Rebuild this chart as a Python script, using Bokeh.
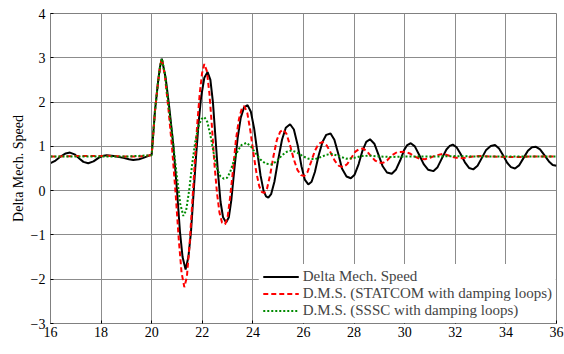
from bokeh.plotting import figure
from bokeh.models import Range1d, FixedTicker, Legend, LegendItem, Label
from bokeh.embed import file_html
from bokeh.resources import INLINE

# ---- data ----
x_ticks = [16, 18, 20, 22, 24, 26, 28, 30, 32, 34, 36]
y_ticks = [-3, -2, -1, 0, 1, 2, 3, 4]

black_t = [16.0, 16.2, 16.4, 16.6, 16.77, 16.95, 17.15, 17.3, 17.49, 17.7, 17.9, 18.05, 18.22, 18.5,
           18.88, 19.1, 19.27, 19.5, 19.67, 19.85, 20.0, 20.05, 20.13, 20.25, 20.33, 20.40,
           20.55, 20.70, 20.85, 21.0, 21.12, 21.22, 21.34, 21.45, 21.55, 21.65, 21.75, 21.85, 21.95,
           22.08, 22.21, 22.32, 22.42, 22.52, 22.62, 22.72, 22.82, 22.94, 23.05, 23.15, 23.27, 23.4,
           23.52, 23.65, 23.79, 23.92, 24.05, 24.18, 24.3, 24.42, 24.52, 24.61, 24.72, 24.85, 25.0,
           25.15, 25.3, 25.47, 25.62, 25.78, 25.92, 26.05, 26.19, 26.32, 26.45, 26.6, 26.75, 26.9,
           27.07, 27.22, 27.38, 27.52, 27.7, 27.87, 28.02, 28.18, 28.33, 28.48, 28.63, 28.8, 28.97,
           29.13, 29.3, 29.49, 29.65, 29.82, 29.98, 30.1, 30.24, 30.4, 30.58, 30.75, 30.93, 31.13,
           31.3, 31.48, 31.65, 31.78, 31.9, 32.05, 32.2, 32.38, 32.55, 32.71, 32.88, 33.05, 33.22,
           33.4, 33.57, 33.73, 33.9, 34.05, 34.2, 34.36, 34.52, 34.7, 34.87, 35.03, 35.19, 35.35,
           35.52, 35.7, 35.85, 36.0]
black_v = [0.62, 0.68, 0.77, 0.84, 0.86, 0.82, 0.72, 0.65, 0.62, 0.66, 0.74, 0.78, 0.80, 0.78,
           0.74, 0.71, 0.69, 0.71, 0.74, 0.78, 0.82, 1.2, 1.8, 2.45, 2.8, 2.98,
           2.55, 1.85, 1.05, 0.0, -0.95, -1.5, -1.78, -1.5, -0.95, -0.1, 0.75, 1.5, 2.1,
           2.55, 2.68, 2.5, 2.0, 1.2, 0.4, -0.25, -0.6, -0.72, -0.6, -0.2, 0.5, 1.2,
           1.65, 1.88, 1.93, 1.78, 1.4, 0.85, 0.35, 0.0, -0.13, -0.16, -0.08, 0.2, 0.7,
           1.15, 1.42, 1.50, 1.38, 1.0, 0.55, 0.25, 0.14, 0.2, 0.42, 0.8, 1.1, 1.26,
           1.29, 1.15, 0.82, 0.5, 0.32, 0.28, 0.36, 0.6, 0.9, 1.1, 1.16, 1.06, 0.8,
           0.55, 0.41, 0.38, 0.47, 0.68, 0.92, 1.03, 1.07, 1.0, 0.8, 0.6, 0.47, 0.44,
           0.53, 0.74, 0.93, 1.01, 1.04, 0.98, 0.84, 0.64, 0.51, 0.48, 0.56, 0.74, 0.92,
           1.01, 1.03, 0.95, 0.79, 0.63, 0.53, 0.50, 0.57, 0.74, 0.9, 0.98, 0.99, 0.93,
           0.8, 0.66, 0.58, 0.56]

red_t = [16.0, 17.0, 18.0, 18.2, 18.5, 19.0, 19.5, 20.0, 20.05, 20.13, 20.25, 20.33, 20.40,
         20.52, 20.66, 20.8, 20.95, 21.07, 21.18, 21.29, 21.39, 21.5, 21.6, 21.7, 21.8, 21.9,
         21.99, 22.08, 22.18, 22.28, 22.38, 22.48, 22.58, 22.68, 22.78, 22.9, 23.0, 23.1, 23.22,
         23.33, 23.45, 23.56, 23.66, 23.78, 23.9, 24.02, 24.14, 24.25, 24.35, 24.45, 24.56, 24.68,
         24.82, 24.95, 25.08, 25.2, 25.33, 25.48, 25.62, 25.76, 25.9, 26.03, 26.16, 26.3, 26.45,
         26.6, 26.76, 26.92, 27.08, 27.24, 27.4, 27.57, 27.73, 27.9, 28.05, 28.2, 28.36, 28.52,
         28.68, 28.83, 29.0, 29.15, 29.3, 29.5, 29.7, 30.01, 30.2, 30.4, 30.6, 30.8, 31.0, 31.2,
         31.5, 31.7, 31.9, 32.15, 32.4, 32.7, 33.0, 33.5, 34.0, 34.5, 35.0, 36.0]
red_v = [0.77, 0.78, 0.78, 0.79, 0.78, 0.77, 0.77, 0.80, 1.2, 1.8, 2.45, 2.8, 2.98,
         2.6, 1.85, 1.0, -0.1, -1.1, -1.85, -2.18, -1.95, -1.2, -0.3, 0.6, 1.5, 2.2,
         2.65, 2.86, 2.7, 2.2, 1.45, 0.6, -0.05, -0.5, -0.72, -0.76, -0.6, -0.15, 0.5,
         1.15, 1.62, 1.85, 1.91, 1.75, 1.35, 0.85, 0.4, 0.1, -0.03, -0.05, 0.05, 0.35,
         0.8, 1.15, 1.33, 1.38, 1.28, 1.0, 0.7, 0.47, 0.35, 0.33, 0.42, 0.65, 0.9,
         1.06, 1.10, 1.02, 0.85, 0.67, 0.56, 0.53, 0.6, 0.75, 0.88, 0.94, 0.95, 0.88,
         0.77, 0.68, 0.63, 0.63, 0.68, 0.8, 0.87, 0.88, 0.84, 0.77, 0.72, 0.71, 0.74, 0.79,
         0.83, 0.8, 0.76, 0.73, 0.74, 0.77, 0.78, 0.77, 0.76, 0.76, 0.77, 0.77]

green_t = [16.0, 17.0, 18.0, 19.0, 20.0, 20.05, 20.13, 20.25, 20.33, 20.40, 20.52, 20.65, 20.8,
           20.92, 21.03, 21.13, 21.25, 21.36, 21.48, 21.6, 21.72, 21.85, 21.97, 22.08, 22.2,
           22.32, 22.45, 22.58, 22.72, 22.85, 22.98, 23.1, 23.25, 23.4, 23.55, 23.75, 23.92, 24.1,
           24.3, 24.5, 24.74, 24.95, 25.15, 25.35, 25.53, 25.75, 26.0, 26.2, 26.45, 26.7, 26.9,
           27.11, 27.4, 27.7, 28.0, 28.3, 28.6, 29.0, 29.5, 30.0, 31.0, 32.0, 33.0, 34.0, 35.0, 36.0]
green_v = [0.77, 0.77, 0.77, 0.77, 0.80, 1.2, 1.8, 2.45, 2.8, 2.98, 2.65, 2.0, 1.3,
           0.7, 0.15, -0.3, -0.57, -0.45, 0.0, 0.6, 1.1, 1.45, 1.62, 1.66, 1.55,
           1.25, 0.85, 0.5, 0.32, 0.27, 0.29, 0.42, 0.68, 0.9, 1.03, 1.08, 1.0, 0.85,
           0.7, 0.61, 0.59, 0.67, 0.8, 0.88, 0.91, 0.86, 0.77, 0.72, 0.71, 0.76, 0.81,
           0.83, 0.78, 0.72, 0.74, 0.78, 0.79, 0.77, 0.76, 0.77, 0.77, 0.78, 0.77, 0.77, 0.77, 0.77]

labels = ["Delta Mech. Speed", "D.M.S. (STATCOM with damping loops)", "D.M.S. (SSSC with damping loops)"]

FONT = "Liberation Serif"

p = figure(width=564, height=354, output_backend="svg", toolbar_location=None,
           x_range=Range1d(16, 36), y_range=Range1d(-3, 4),
           min_border_left=50, min_border_right=8, min_border_top=13, min_border_bottom=31)
p.background_fill_color = "white"
p.border_fill_color = "white"
p.outline_line_color = "#808080"

p.axis.major_label_text_font = FONT
p.axis.major_label_text_font_size = "14px"
p.axis.major_label_text_color = "black"
p.axis.axis_line_color = "#808080"
p.axis.major_tick_in = 3
p.axis.major_tick_out = 0
p.axis.major_tick_line_color = "black"
p.axis.minor_tick_line_color = None

p.xaxis.ticker = FixedTicker(ticks=x_ticks)
p.yaxis.ticker = FixedTicker(ticks=y_ticks)
p.xaxis.major_label_standoff = 3
p.yaxis.major_label_standoff = 5

p.yaxis.axis_label = "Delta Mech. Speed"
p.yaxis.axis_label_text_font = FONT
p.yaxis.axis_label_text_font_size = "14px"
p.yaxis.axis_label_text_font_style = "normal"
p.yaxis.axis_label_text_color = "black"
p.yaxis.axis_label_standoff = 2

p.grid.grid_line_color = "#8c8c8c"
p.grid.grid_line_alpha = 1.0
p.grid.grid_line_width = 1
p.xgrid.ticker = FixedTicker(ticks=x_ticks)
p.ygrid.ticker = FixedTicker(ticks=y_ticks)

r_black = p.line(black_t, black_v, line_color="black", line_width=2)
r_red = p.line(red_t, red_v, line_color="#ff0000", line_width=2, line_dash="5 3")
r_green = p.line(green_t, green_v, line_color="#008a00", line_width=2, line_dash="2 2")

legend = Legend(items=[LegendItem(label=labels[0], renderers=[r_black]),
                       LegendItem(label=labels[1], renderers=[r_red]),
                       LegendItem(label=labels[2], renderers=[r_green])],
                location="bottom_right", margin=0, padding=4, spacing=0,
                label_height=17, glyph_height=17, glyph_width=36, label_standoff=4,
                label_text_font=FONT, label_text_font_size="15px",
                background_fill_color="white", background_fill_alpha=1.0,
                border_line_alpha=0)
p.add_layout(legend)

xlabel = Label(x=26, y=-3, y_offset=-17, text="Time (sec)", text_font=FONT,
               text_font_size="13px", text_align="center", text_baseline="top",
               text_color="black")
p.add_layout(xlabel)

open("out.html", "w").write(file_html(p, INLINE))
